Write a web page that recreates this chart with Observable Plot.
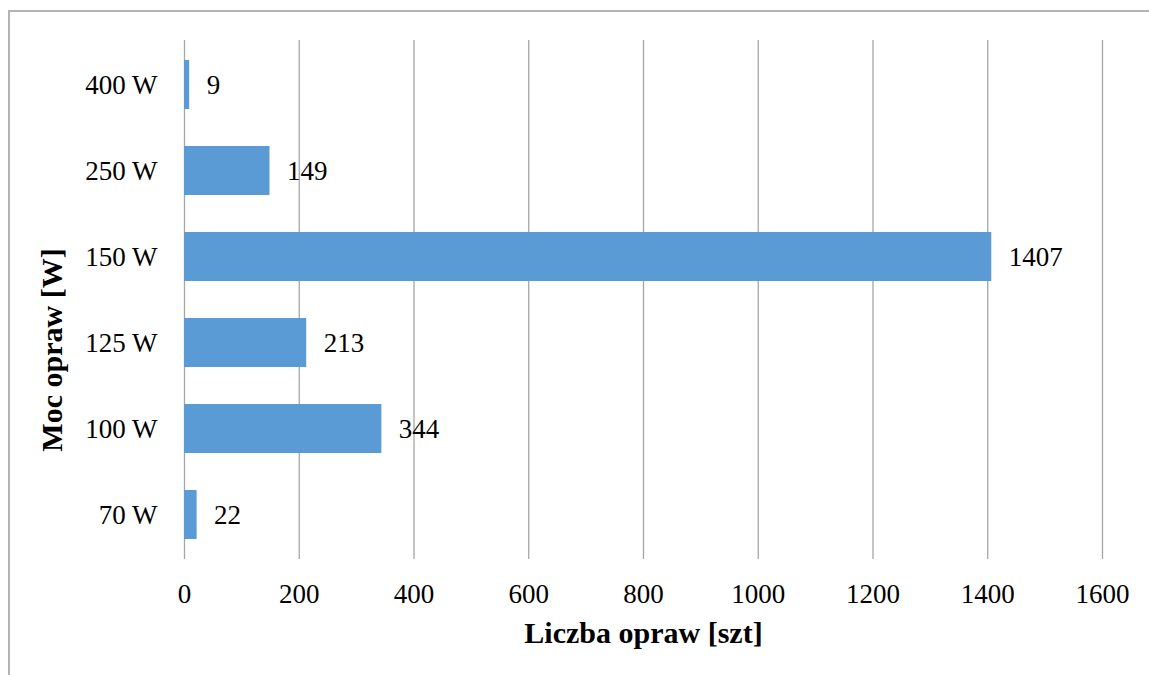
<!DOCTYPE html>
<html>
<head>
<meta charset="utf-8">
<script src="https://cdn.jsdelivr.net/npm/d3@7"></script>
<script src="https://cdn.jsdelivr.net/npm/@observablehq/plot@0.6"></script>
<style>
  html, body { margin: 0; padding: 0; background: #fff; }
  #wrap { position: relative; width: 1149px; height: 675px; overflow: hidden; }
  #frame { position: absolute; left: 8px; top: 10px; width: 1200px; height: 700px;
           border-left: 2px solid #b3b3b3; border-top: 2px solid #b3b3b3; box-sizing: border-box; }
  #wrap svg { position: absolute; left: 0; top: 0; }
</style>
</head>
<body>
<div id="wrap"><div id="frame"></div></div>
<script>
const categories = ["400 W", "250 W", "150 W", "125 W", "100 W", "70 W"];
const values = [9, 149, 1407, 213, 344, 22];
const xTicks = [0, 200, 400, 600, 800, 1000, 1200, 1400, 1600];
const xTitle = "Liczba opraw [szt]";
const yTitle = "Moc opraw [W]";

const data = categories.map((c, i) => ({cat: c, value: values[i]}));
const font = "'Liberation Serif', 'Times New Roman', serif";
const fs = 27;

const chart = Plot.plot({
  width: 1149,
  height: 675,
  marginLeft: 184,
  marginRight: 47,
  marginTop: 40,
  marginBottom: 116,
  style: {fontFamily: font, fontSize: fs + "px", color: "#000", background: "transparent", overflow: "visible"},
  x: {domain: [0, 1600], ticks: xTicks, label: null},
  y: {domain: categories, paddingInner: 0.43, paddingOuter: 0.215, label: null},
  marks: [
    Plot.ruleX(xTicks, {x: d => d, stroke: "#a6a6a6", strokeWidth: 1.3}),
    Plot.barX(data, {x: "value", y: "cat", fill: "#5b9bd5"}),
    Plot.text(data, {x: "value", y: "cat", text: d => String(d.value), textAnchor: "start", dx: 17, fontSize: fs, fill: "#000"}),
    Plot.axisX({ticks: xTicks, tickFormat: d => String(d), tickSize: 0, tickPadding: 24, fontSize: fs, label: null}),
    Plot.axisY({tickSize: 0, tickPadding: 27, fontSize: fs, label: null}),
    Plot.text([xTitle], {frameAnchor: "bottom", text: d => d, dy: 74, lineAnchor: "middle", textAnchor: "middle", fontWeight: "bold", fontSize: 30, fill: "#000"}),
    Plot.text([yTitle], {frameAnchor: "left", text: d => d, dx: -132, dy: 50, rotate: -90, lineAnchor: "middle", textAnchor: "middle", fontWeight: "bold", fontSize: 30, fill: "#000"})
  ]
});
document.getElementById("wrap").appendChild(chart);
</script>
</body>
</html>
